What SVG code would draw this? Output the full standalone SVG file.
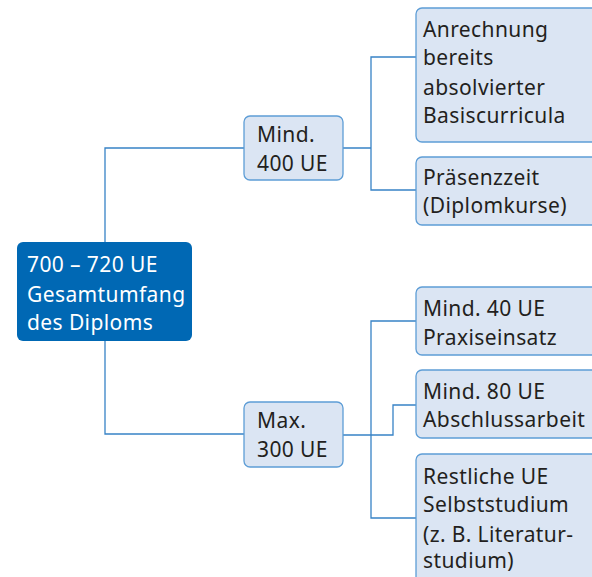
<svg xmlns="http://www.w3.org/2000/svg" width="592" height="577" viewBox="0 0 592 577">
<style>
.box{fill:#dbe5f3;stroke:#5d9dd6;stroke-width:1.3}
.root{fill:#0068b4}
.t{font-family:"Noto Sans","Open Sans",sans-serif;font-size:21px;letter-spacing:0.4px;fill:#231f20}
.w{fill:#ffffff}
.c{fill:none;stroke:#3783c6;stroke-width:1.3}
</style>
<rect width="592" height="577" fill="#ffffff"/>
<g id="connectors">
<path class="c" d="M244,148 H105 V434 H244"/>
<path class="c" d="M343,148 H371 M416,57 H371 V190 H416"/>
<path class="c" d="M343,435 H393 V405 H416 M416,321 H371 V518 H416"/>
</g>
<g id="root">
<rect class="root" x="17" y="242" width="175" height="99" rx="6"/>
<text class="t w" x="27" y="272">700 – 720 UE</text>
<text class="t w" x="27" y="302">Gesamtumfang</text>
<text class="t w" x="27" y="330">des Diploms</text>
</g>
<g id="mind400">
<rect class="box" x="244" y="116" width="99" height="64" rx="6"/>
<text class="t" x="257" y="142">Mind.</text>
<text class="t" x="257" y="171">400 UE</text>
</g>
<g id="max300">
<rect class="box" x="244" y="402" width="99" height="65" rx="6"/>
<text class="t" x="257" y="428">Max.</text>
<text class="t" x="257" y="457">300 UE</text>
</g>
<g id="anrechnung">
<rect class="box" x="416" y="8" width="190" height="134" rx="6"/>
<text class="t" x="423" y="37">Anrechnung</text>
<text class="t" x="423" y="65">bereits</text>
<text class="t" x="423" y="95">absolvierter</text>
<text class="t" x="423" y="123">Basiscurricula</text>
</g>
<g id="praesenz">
<rect class="box" x="416" y="157" width="190" height="68" rx="6"/>
<text class="t" x="423" y="185">Präsenzzeit</text>
<text class="t" x="423" y="213">(Diplomkurse)</text>
</g>
<g id="praxis">
<rect class="box" x="416" y="287" width="190" height="68" rx="6"/>
<text class="t" x="423" y="316">Mind. 40 UE</text>
<text class="t" x="423" y="345">Praxiseinsatz</text>
</g>
<g id="abschluss">
<rect class="box" x="416" y="370" width="190" height="68" rx="6"/>
<text class="t" x="423" y="399">Mind. 80 UE</text>
<text class="t" x="423" y="427">Abschlussarbeit</text>
</g>
<g id="restliche">
<rect class="box" x="416" y="454" width="190" height="140" rx="6"/>
<text class="t" x="423" y="484">Restliche UE</text>
<text class="t" x="423" y="512">Selbststudium</text>
<text class="t" x="423" y="542">(z. B. Literatur-</text>
<text class="t" x="423" y="568">studium)</text>
</g>
</svg>
